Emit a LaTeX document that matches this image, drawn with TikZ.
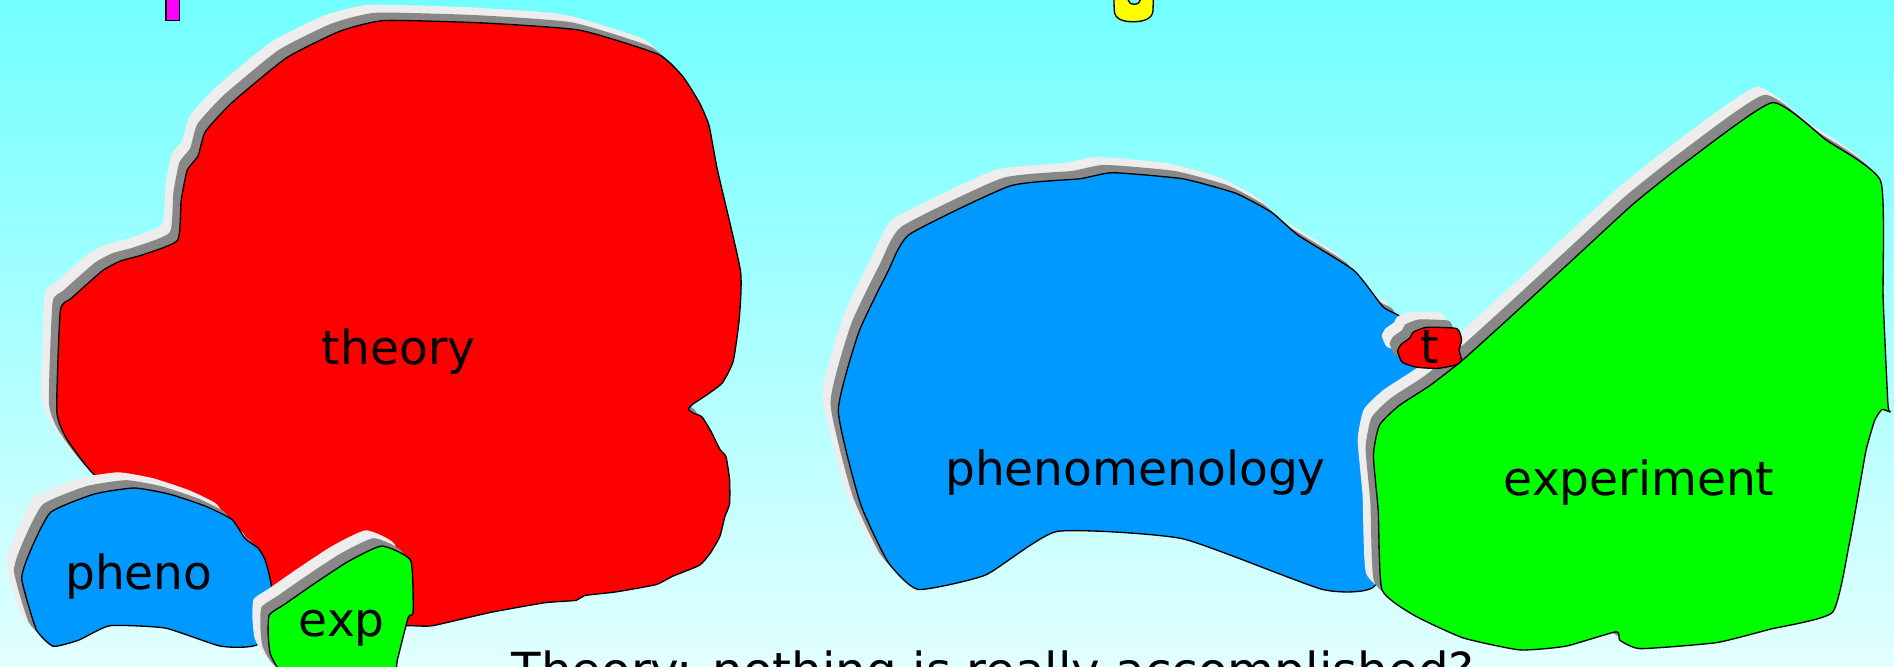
\documentclass[tikz,border=0pt]{standalone}
\usepackage{fontspec}
\setmainfont{DejaVu Sans}
\usepackage{tikz}
\definecolor{SkyTop}{HTML}{72FFFF}
\definecolor{SkyLow}{HTML}{E2FFFF}
\definecolor{TheoryRed}{HTML}{FF0000}
\definecolor{PhenoBlue}{HTML}{0099FF}
\definecolor{ExpGreen}{HTML}{00FF00}
\definecolor{ShadePale}{HTML}{EDEDED}
\definecolor{ShadeDark}{HTML}{888888}
\definecolor{TopMagenta}{HTML}{FF00FF}
\definecolor{TopYellow}{HTML}{FFFF00}
% blob with a two-step drop shadow up and left
\newcommand{\drawblob}[2]{%
  \fill[ShadePale,shift={(-13,-13)}] plot[smooth cycle,tension=0.3] coordinates {#2};
  \fill[ShadeDark,shift={(-6.5,-6.5)}] plot[smooth cycle,tension=0.3] coordinates {#2};
  \draw[blobline,fill=#1] plot[smooth cycle,tension=0.3] coordinates {#2};}

\begin{document}
\begin{tikzpicture}[
  x=1pt,y=-1pt,
  blobline/.style={draw=black,line width=1.1pt,line join=round},
  lbl/.style={font=\fontsize{39}{41}\selectfont,anchor=base,inner sep=0pt}
]
\useasboundingbox (0,0) rectangle (1568,552);
\clip (0,0) rectangle (1568,552);
\shade[top color=SkyTop,bottom color=SkyLow] (0,0) rectangle (1568,552);

% bits of the slide title
\draw[line width=1.2pt,fill=TopMagenta] (137.5,-5) rectangle (148.5,17);
\draw[blobline,fill=TopYellow] (922,-5) -- (922.5,9) .. controls (923,15) and (928,18) .. (938,18)
  .. controls (948,18) and (954,15) .. (954.5,9) -- (955,-5) -- cycle;
\draw[blobline,fill=SkyTop] (939,0) ellipse (5 and 3.5);

% left group
\drawblob{TheoryRed}{(318,17) (400,19) (480,25) (545,45) (565,63) (579,85) (587,104) (594,141)
  (613,224) (612,264) (607,299) (598,317) (585,327) (573,335) (570,339) (574,342) (581,345)
  (588,356) (596,372) (601,378) (604,397) (604,417) (600,428) (596,444) (588,458) (579,468)
  (557,477) (543,484) (510,490) (484,493) (477,497) (451,499) (406,507) (358,518) (338,518)
  (300,520) (250,515) (222,500) (200,450) (120,420) (78,393) (55,363) (47,340) (50,257)
  (59,247) (85,224) (100,216) (118,211) (147,199) (150,166) (155,141) (164,129) (170,109)
  (192,85) (237,48) (281,26)}
\drawblob{PhenoBlue}{(42,424) (78,409) (111,404) (140,409) (170,419) (192,430) (203,446)
  (214,454) (220,465) (225,490) (214,533) (183,535) (137,520) (91,518) (65,530) (44,535)
  (30,521) (18,479) (26,454)}
\drawblob{ExpGreen}{(223,509) (236,500) (259,484) (288,465) (316,452) (340,464) (342,507)
  (338,511) (329,546) (325,560) (280,565) (235,558) (224,542) (222,525)}

% right group
\drawblob{PhenoBlue}{(753,194) (836,154) (894,148) (921,143) (979,148) (1023,160) (1053,176)
  (1075,195) (1121,224) (1145,254) (1159,262) (1170,280) (1175,300) (1160,330) (1140,400)
  (1139,484) (1095,488) (979,446) (875,440) (816,476) (760,488) (735,465) (712,416) (694,340)
  (711,275) (735,225)}
\drawblob{ExpGreen}{(1467,85) (1512,116) (1557,150) (1559,247) (1563,335) (1565,341)
  (1558,339) (1552,348) (1545,372) (1540,400) (1531,450) (1517,507) (1465,521) (1421,532)
  (1358,537) (1341,530) (1338,523) (1296,535) (1258,538) (1211,528) (1170,509) (1144,488)
  (1141,423) (1137,377) (1142,352) (1158,336) (1184,319) (1211,298) (1252,261) (1302,215)
  (1352,169) (1396,134)}
\drawblob{TheoryRed}{(1157,291) (1160,285) (1167,280) (1170,275) (1181,271) (1206,272)
  (1210,281) (1208,290) (1210,298) (1206,302) (1190,305) (1173,304) (1161,300)}

\node[lbl] (theory) at (330,302) {theory};
\node[lbl] (pheno) at (115,488) {pheno};
\node[lbl] (exp) at (283,527) {exp};
\node[lbl] (phenomenology) at (940,402) {phenomenology};
\node[lbl] (experiment) at (1357,410) {experiment};
\node[lbl] (tiny) at (1184,301) {t};
\node[lbl,font=\fontsize{40}{42}\selectfont] (verdict) at (822,569)
  {Theory: nothing is really accomplished?};
\end{tikzpicture}
\end{document}
